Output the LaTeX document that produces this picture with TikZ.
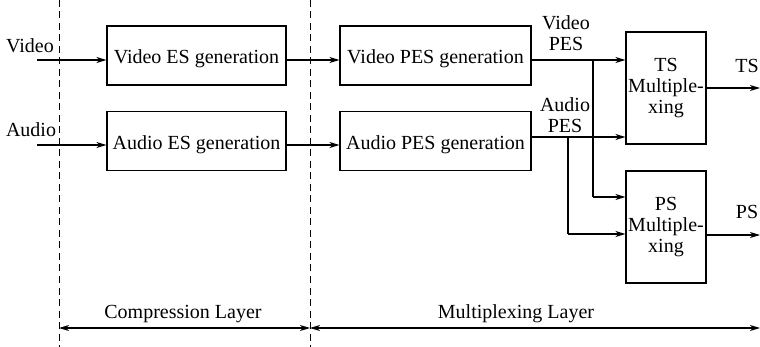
\documentclass[tikz,border=0pt]{standalone}
\usepackage{fontspec}
\setmainfont{Liberation Serif}
\newfontfamily\diagfont{Liberation Serif}
\usetikzlibrary{arrows.meta}
\begin{document}
\begin{tikzpicture}[x=1pt,y=-1pt,
  font=\diagfont\fontsize{20}{21}\selectfont,
  box/.style={draw, line width=1.1pt, inner sep=0pt, align=center},
  onebox/.style={box, minimum height=59pt, text height=17pt, text depth=0pt},
  mux/.style={box, minimum width=80pt, minimum height=112pt},
  flow/.style={line width=1.1pt, -{Stealth[length=10pt,width=6pt,inset=3pt]}},
  wire/.style={line width=1.1pt},
  layer/.style={line width=0.9pt, dash pattern=on 7pt off 4.5pt},
  span/.style={line width=1.1pt, {Stealth[length=10pt,width=6pt,inset=3pt]}-{Stealth[length=10pt,width=6pt,inset=3pt]}},
  lbl/.style={inner sep=0pt, anchor=base, align=center}]
\useasboundingbox (0,0) rectangle (760,347);

% layer boundaries
\coordinate (c1t) at (59,0);  \coordinate (c1b) at (59,347);
\coordinate (c2t) at (310,0); \coordinate (c2b) at (310,347);
\draw[layer] (c1t) -- (c1b);
\draw[layer] (c2t) -- (c2b);

% processing blocks
\node[onebox, minimum width=179pt] (ves) at (196.5,55.5) {Video ES generation};
\node[onebox, minimum width=179pt] (aes) at (196.5,141) {Audio ES generation};
\node[onebox, minimum width=191pt] (vpes) at (435.5,55.5) {Video PES generation};
\node[onebox, minimum width=191pt] (apes) at (435.5,141) {Audio PES generation};
\node[mux] (ts) at (666,88) {TS\\Multiple-\\xing};
\node[mux] (ps) at (666,227) {PS\\Multiple-\\xing};

% inputs
\coordinate (vin) at (37,60);
\coordinate (ain) at (37,145);
\node[lbl] (vinl) at (30,53) {Video};
\node[lbl] (ainl) at (31,137) {Audio};
\draw[flow] (vin) -- (vin -| ves.west);
\draw[flow] (ain) -- (ain -| aes.west);

% ES -> PES
\coordinate (ves2) at (ves.east |- vin);
\coordinate (aes2) at (aes.east |- ain);
\draw[flow] (ves2) -- (ves2 -| vpes.west);
\draw[flow] (aes2) -- (aes2 -| apes.west);

% PES -> multiplexers
\coordinate (vpo) at (vpes.east |- vin);
\coordinate (apo) at (531,137);
\draw[flow] (vpo) -- (vpo -| ts.west);
\draw[flow] (apo) -- (apo -| ts.west);
% the base anchor of a two-line label sits on its last line
\node[lbl] (vpesl) at (566,51) {Video\\PES};
\node[lbl] (apesl) at (565,133) {Audio\\PES};

% branches to PS multiplexer
\coordinate (vbr) at (593,60);
\coordinate (vbd) at (593,197);
\coordinate (abr) at (568,137);
\coordinate (abd) at (568,234);
\draw[wire] (vbr) -- (vbd);
\draw[flow] (vbd) -- (vbd -| ps.west);
\draw[wire] (abr) -- (abd);
\draw[flow] (abd) -- (abd -| ps.west);

% outputs
\coordinate (tso) at (760,88);
\coordinate (pso) at (760,235);
\draw[flow] (tso -| ts.east) -- (tso);
\draw[flow] (pso -| ps.east) -- (pso);
\node[lbl] (tsl) at (747,73) {TS};
\node[lbl] (psl) at (747,219) {PS};

% layer spans
\coordinate (s1) at (59,328);
\coordinate (s2) at (310,328);
\coordinate (s3) at (760,328);
\draw[span] (s1) -- (s2);
\draw[span] (s2) -- (s3);
\node[lbl] (cl) at (183,318) {Compression Layer};
\node[lbl] (ml) at (516,318) {Multiplexing Layer};
\end{tikzpicture}
\end{document}
